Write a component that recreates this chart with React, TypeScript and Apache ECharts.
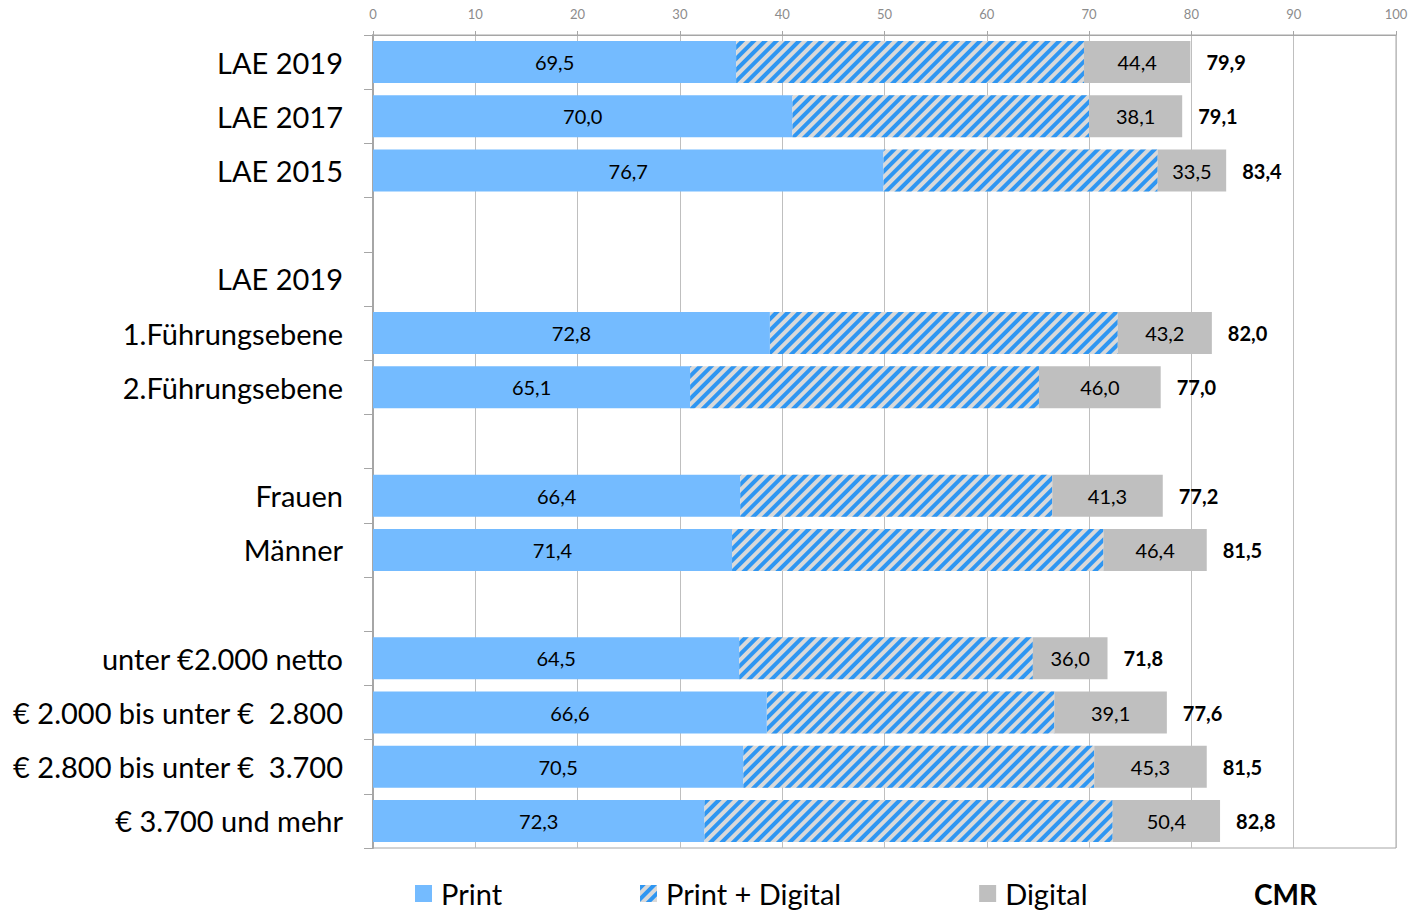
import React, { useEffect, useRef } from "react";
import * as echarts from "echarts";

const categories = [
  "LAE 2019",
  "LAE 2017",
  "LAE 2015",
  "",
  "LAE 2019",
  "1.Führungsebene",
  "2.Führungsebene",
  "",
  "Frauen",
  "Männer",
  "",
  "unter €2.000 netto",
  "€ 2.000 bis unter €  2.800",
  "€ 2.800 bis unter €  3.700",
  "€ 3.700 und mehr",
];

const printValues = [69.5, 70.0, 76.7, null, null, 72.8, 65.1, null, 66.4, 71.4, null, 64.5, 66.6, 70.5, 72.3];
const digitalValues = [44.4, 38.1, 33.5, null, null, 43.2, 46.0, null, 41.3, 46.4, null, 36.0, 39.1, 45.3, 50.4];
const cmrValues = [79.9, 79.1, 83.4, null, null, 82.0, 77.0, null, 77.2, 81.5, null, 71.8, 77.6, 81.5, 82.8];

const xTicks = [0, 10, 20, 30, 40, 50, 60, 70, 80, 90, 100];

const FONT = "Lato";
const fmt = (v: number | null) => (v == null ? "" : v.toFixed(1).replace(".", ","));
const r1 = (v: number) => Math.round(v * 10) / 10;

export default function App() {
  const ref = useRef<HTMLDivElement>(null);
  useEffect(() => {
    if (!ref.current) return;
    const chart = echarts.init(ref.current, undefined, { renderer: "svg" });

    const printOnly = categories.map((_, i) =>
      cmrValues[i] == null ? "-" : r1((cmrValues[i] as number) - (digitalValues[i] as number))
    );
    const overlap = categories.map((_, i) =>
      cmrValues[i] == null
        ? "-"
        : r1((printValues[i] as number) + (digitalValues[i] as number) - (cmrValues[i] as number))
    );
    const digitalOnly = categories.map((_, i) =>
      cmrValues[i] == null ? "-" : r1((cmrValues[i] as number) - (printValues[i] as number))
    );
    const cmrBars = cmrValues.map((v) => (v == null ? "-" : v));

    chart.setOption({
      animation: false,
      textStyle: { fontFamily: FONT },
      grid: {
        left: 373,
        right: 17,
        top: 35,
        bottom: 65,
        show: true,
        borderColor: "#a6a6a6",
        borderWidth: 1,
      },
      xAxis: {
        type: "value",
        position: "top",
        min: xTicks[0],
        max: xTicks[xTicks.length - 1],
        interval: 10,
        axisLine: { show: true, lineStyle: { color: "#a6a6a6", width: 1 } },
        axisTick: { show: true, length: 4, lineStyle: { color: "#a6a6a6" } },
        axisLabel: { color: "#8c8c8c", fontSize: 13, fontFamily: FONT, margin: 15 },
        splitLine: { show: true, lineStyle: { color: "#bfbfbf", width: 1 } },
      },
      yAxis: {
        type: "category",
        inverse: true,
        data: categories,
        axisLine: { show: true, lineStyle: { color: "#a6a6a6", width: 2 } },
        axisTick: { show: true, length: 9, lineStyle: { color: "#a6a6a6" } },
        axisLabel: { color: "#000", fontSize: 29, fontFamily: FONT, margin: 30 },
      },
      legend: {
        data: ["Print", "Print + Digital", "Digital"],
        left: 415,
        top: 879,
        padding: 0,
        itemWidth: 17,
        itemHeight: 17,
        itemGap: 138,
        icon: "rect",
        textStyle: { fontSize: 29, color: "#000", fontFamily: FONT, padding: [0, 0, 0, 4] },
      },
      graphic: [
        {
          type: "text",
          left: 1254,
          top: 880,
          style: { text: "CMR", fontSize: 28, fontWeight: "bold", fontFamily: FONT, fill: "#000" },
        },
      ],
      series: [
        {
          name: "CMR",
          type: "bar",
          barWidth: 42,
          barGap: "-100%",
          data: cmrBars,
          z: 1,
          itemStyle: { color: "rgba(0,0,0,0)" },
          label: {
            show: true,
            position: "right",
            distance: 16,
            color: "#000",
            fontSize: 20,
            fontWeight: "bold",
            fontFamily: FONT,
            formatter: (p: any) => fmt(cmrValues[p.dataIndex]),
          },
        },
        {
          name: "Print",
          type: "bar",
          stack: "a",
          barWidth: 42,
          barGap: "-100%",
          data: printOnly,
          itemStyle: { color: "#74bbff" },
          label: {
            show: true,
            position: "inside",
            color: "#000",
            fontSize: 20,
            fontFamily: FONT,
            formatter: (p: any) => fmt(printValues[p.dataIndex]),
          },
        },
        {
          name: "Print + Digital",
          type: "bar",
          stack: "a",
          barWidth: 42,
          barGap: "-100%",
          data: overlap,
          itemStyle: {
            color: "#d9d9d9",
            decal: {
              symbol: "rect",
              symbolSize: 1,
              dashArrayX: [1, 0],
              dashArrayY: [3.5, 4],
              rotation: -Math.PI / 4,
              color: "#2e96f2",
            },
          },
        },
        {
          name: "Digital",
          type: "bar",
          stack: "a",
          barWidth: 42,
          barGap: "-100%",
          data: digitalOnly,
          itemStyle: { color: "#bfbfbf" },
          label: {
            show: true,
            position: "inside",
            color: "#000",
            fontSize: 20,
            fontFamily: FONT,
            formatter: (p: any) => fmt(digitalValues[p.dataIndex]),
          },
        },
      ],
    });
    return () => chart.dispose();
  }, []);
  return (
    <div
      ref={ref}
      style={{ position: "fixed", left: 0, top: 0, width: 1413, height: 913, background: "#fff" }}
    />
  );
}
